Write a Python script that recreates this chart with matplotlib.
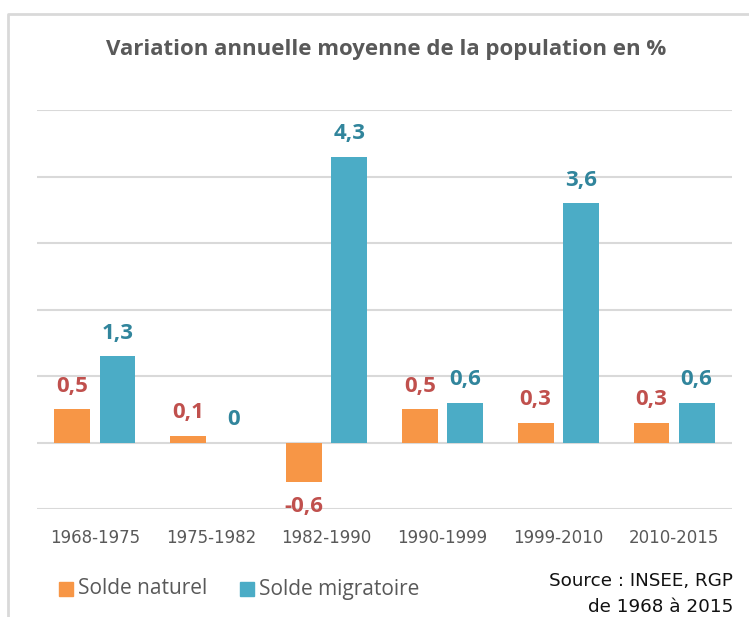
import numpy as np
import matplotlib.pyplot as plt
from matplotlib.patches import Rectangle

# Data
periods = ['1968-1975', '1975-1982', '1982-1990', '1990-1999', '1999-2010', '2010-2015']
solde_naturel = [0.5, 0.1, -0.6, 0.5, 0.3, 0.3]
solde_migratoire = [1.3, 0.0, 4.3, 0.6, 3.6, 0.6]
labels_naturel = ['0,5', '0,1', '-0,6', '0,5', '0,3', '0,3']
labels_migratoire = ['1,3', '0', '4,3', '0,6', '3,6', '0,6']

orange = '#F79646'
blue = '#4BACC6'
grid_col = '#D9D9D9'

fig = plt.figure(figsize=(7.49, 6.17), dpi=100)
ax = fig.add_axes([37 / 749, 1 - 509 / 617, 695 / 749, 399 / 617])

x = np.arange(len(periods))
w = 0.31
off = 0.195
ax.bar(x - off, solde_naturel, w, color=orange, zorder=3)
ax.bar(x + off, solde_migratoire, w, color=blue, zorder=3)

# value labels
lab_kw = dict(textcoords='offset points', ha='center', fontsize=16,
              fontweight='bold', family='Open Sans')
for xi, v, t in zip(x, solde_naturel, labels_naturel):
    if v >= 0:
        ax.annotate(t, (xi - off, v), xytext=(0, 9), va='bottom',
                    color='#C0504D', **lab_kw)
    else:
        ax.annotate(t, (xi - off, v), xytext=(0, -10), va='top',
                    color='#C0504D', **lab_kw)
for xi, v, t in zip(x, solde_migratoire, labels_migratoire):
    ax.annotate(t, (xi + off, v), xytext=(0, 9), va='bottom',
                color='#31859C', **lab_kw)

ax.set_xlim(-0.5, len(periods) - 0.5)
ax.set_ylim(-1, 5)
ax.set_yticks(range(-1, 6))
ax.yaxis.grid(True, color=grid_col, linewidth=1.5, zorder=0)
ax.tick_params(axis='y', left=False, labelleft=False)
ax.tick_params(axis='x', bottom=False, pad=11)
ax.set_xticks(x)
ax.set_xticklabels(periods, fontsize=12, color='#595959', family='DejaVu Sans')
for s in ax.spines.values():
    s.set_visible(False)

# title
fig.text(386 / 749, 1 - 50 / 617, 'Variation annuelle moyenne de la population en %',
         ha='center', va='center', fontsize=16, fontweight='bold',
         color='#595959', family='Open Sans')

# legend
fig.patches.append(Rectangle((59 / 749, 1 - 596 / 617), 14 / 749, 14 / 617,
                             transform=fig.transFigure, color=orange))
fig.text(78 / 749, 1 - 589 / 617, 'Solde naturel', ha='left', va='center',
         fontsize=15, color='#595959', family='Open Sans')
fig.patches.append(Rectangle((240 / 749, 1 - 596 / 617), 14 / 749, 14 / 617,
                             transform=fig.transFigure, color=blue))
fig.text(259 / 749, 1 - 589 / 617, 'Solde migratoire', ha='left', va='center',
         fontsize=15, color='#595959', family='Open Sans')

# source
fig.text(733 / 749, 1 - 581 / 617, 'Source : INSEE, RGP', ha='right', va='center',
         fontsize=13.2, color='#111111', family='DejaVu Sans')
fig.text(733 / 749, 1 - 607 / 617, 'de 1968 à 2015', ha='right', va='center',
         fontsize=13.2, color='#111111', family='DejaVu Sans')

# frame of the chart area
fig.lines.append(plt.Line2D([8 / 749, 8 / 749, 1], [0, 1 - 14 / 617, 1 - 14 / 617],
                            transform=fig.transFigure, color=grid_col, linewidth=2))

fig.savefig('out.png', dpi=100)
